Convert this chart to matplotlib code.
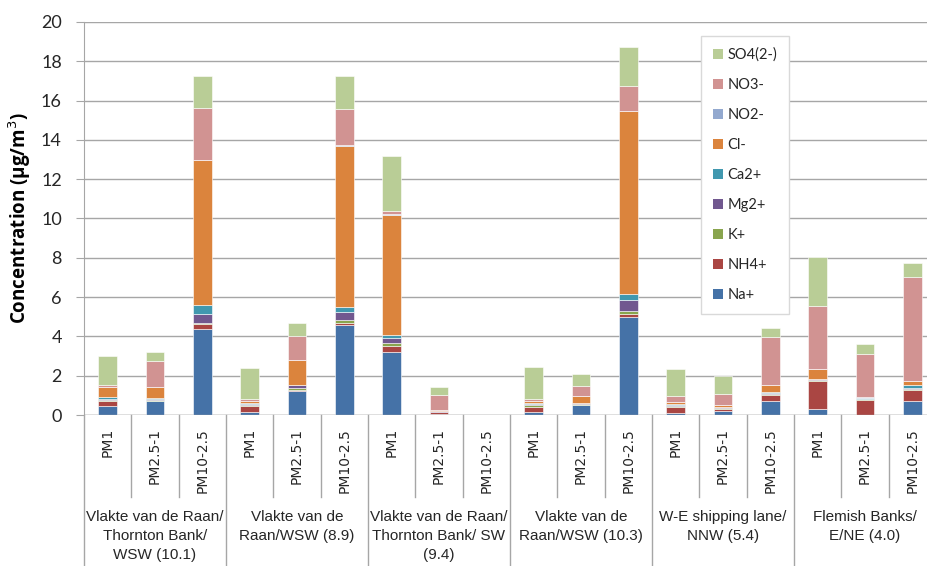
import matplotlib
matplotlib.use("Agg")
import matplotlib.pyplot as plt
from matplotlib.patches import Patch
import numpy as np

# size fractions and sampling groups
fractions = ["PM1", "PM2.5-1", "PM10-2.5"]
groups = [
    "Vlakte van de Raan/\nThornton Bank/\nWSW (10.1)",
    "Vlakte van de\nRaan/WSW (8.9)",
    "Vlakte van de Raan/\nThornton Bank/ SW\n(9.4)",
    "Vlakte van de\nRaan/WSW (10.3)",
    "W-E shipping lane/\nNNW (5.4)",
    "Flemish Banks/\nE/NE (4.0)",
]

# ion concentrations (ug/m3), 18 bars: group x fraction
na = [0.47, 0.71, 4.36, 0.14, 1.24, 4.56, 3.22, 0.03, 0, 0.14, 0.49, 5.00, 0.08, 0.19, 0.70, 0.29, 0.02, 0.70]
nh4 = [0.24, 0.02, 0.27, 0.30, 0.03, 0.12, 0.31, 0.10, 0, 0.28, 0.03, 0.12, 0.34, 0.10, 0.33, 1.46, 0.74, 0.59]
k = [0.05, 0.05, 0.07, 0.08, 0.12, 0.14, 0.13, 0.04, 0, 0.09, 0.05, 0.19, 0.06, 0.06, 0.05, 0.04, 0.04, 0.05]
mg = [0.05, 0.05, 0.42, 0.04, 0.12, 0.42, 0.27, 0.02, 0, 0.05, 0.03, 0.54, 0.04, 0.04, 0.06, 0.03, 0.02, 0.05]
ca = [0.09, 0.05, 0.48, 0.03, 0.04, 0.25, 0.14, 0.01, 0, 0.05, 0.02, 0.32, 0.04, 0.03, 0.04, 0.03, 0.05, 0.14]
cl = [0.52, 0.54, 7.36, 0.12, 1.23, 8.21, 6.12, 0.03, 0, 0.10, 0.35, 9.28, 0.08, 0.10, 0.33, 0.48, 0.02, 0.18]
no2 = [0.02, 0.02, 0.02, 0.02, 0.02, 0.02, 0.02, 0.01, 0, 0.02, 0.01, 0.02, 0.02, 0.01, 0.02, 0.01, 0.01, 0.02]
no3 = [0.10, 1.29, 2.66, 0.10, 1.24, 1.85, 0.17, 0.78, 0, 0.10, 0.51, 1.29, 0.32, 0.55, 2.44, 3.19, 2.19, 5.31]
so4 = [1.46, 0.47, 1.59, 1.55, 0.63, 1.68, 2.80, 0.40, 0, 1.60, 0.61, 1.97, 1.36, 0.92, 0.47, 2.49, 0.52, 0.68]

series = [
    ("Na+", na, "#4572A7"),
    ("NH4+", nh4, "#AA4643"),
    ("K+", k, "#89A54E"),
    ("Mg2+", mg, "#71588F"),
    ("Ca2+", ca, "#4198AF"),
    ("Cl-", cl, "#DB843D"),
    ("NO2-", no2, "#93A9CF"),
    ("NO3-", no3, "#D19392"),
    ("SO4(2-)", so4, "#B9CD96"),
]

W, H = 928, 566
fig = plt.figure(figsize=(W / 100, H / 100), dpi=100)
ax = fig.add_axes([84 / W, (H - 415) / H, 852 / W, 393 / H])

n = len(groups) * len(fractions)
x = np.arange(n)
bottom = np.zeros(n)
handles = []
for name, vals, col in series:
    v = np.array(vals, dtype=float)
    ax.bar(x, v, bottom=bottom, width=0.4, color=col, edgecolor="white",
           linewidth=0.4, zorder=3)
    bottom += v
    handles.append(Patch(facecolor=col, edgecolor="none", label=name))

ax.set_xlim(-0.5, n - 0.5)
ax.set_ylim(0, 20)
ax.set_yticks(np.arange(0, 21, 2))
ax.yaxis.grid(True, color="#A6A6A6", linewidth=1.0, zorder=0)
ax.set_xticks([])
for s in ["top", "right", "bottom"]:
    ax.spines[s].set_visible(False)
ax.spines["left"].set_color("#A6A6A6")
ax.axhline(0, color="#A6A6A6", linewidth=1.0, zorder=4)
ax.axhline(20, color="#D0D0D0", linewidth=1.5, zorder=1)
ax.tick_params(axis="y", direction="out", length=6, color="#A6A6A6",
               labelsize=13, labelcolor="#262626", pad=10)
for lbl in ax.get_yticklabels():
    lbl.set_family("Lato")

ax.set_ylabel("Concentration (µg/m$^3$)", fontsize=13.5, fontweight="bold",
              family="Open Sans")
ax.yaxis.set_label_coords(-0.06, 0.5)

# multi-level category axis
tr = ax.get_xaxis_transform()
ah = 393.0
for i in range(n):
    ax.text(x[i], -13 / ah, fractions[i % 3], transform=tr, rotation=90,
            ha="center", va="top", fontsize=10, color="#262626")
for i in range(n + 1):
    xb = i - 0.5
    low = -151 / ah if i % 3 == 0 else -82 / ah
    ax.plot([xb, xb], [0, low], transform=tr, color="#A6A6A6",
            linewidth=1.0, clip_on=False)
for g, name in enumerate(groups):
    ax.text(g * 3 + 1, -95 / ah, name, transform=tr, ha="center", va="top",
            fontsize=11, linespacing=1.45, color="#262626",
            family="Liberation Sans")

leg = ax.legend(handles=handles[::-1], loc="upper left",
                bbox_to_anchor=(701 / W, 1 - 36 / H), bbox_transform=fig.transFigure,
                borderaxespad=0, fancybox=False, framealpha=1, edgecolor="#D9D9D9",
                handlelength=0.7, handleheight=0.7, handletextpad=0.3,
                labelspacing=1.1, borderpad=0.8,
                prop={"family": "Lato", "size": 10.5})
leg.get_frame().set_linewidth(1.0)
for t in leg.get_texts():
    t.set_color("#262626")

fig.savefig("out.png", dpi=100)
